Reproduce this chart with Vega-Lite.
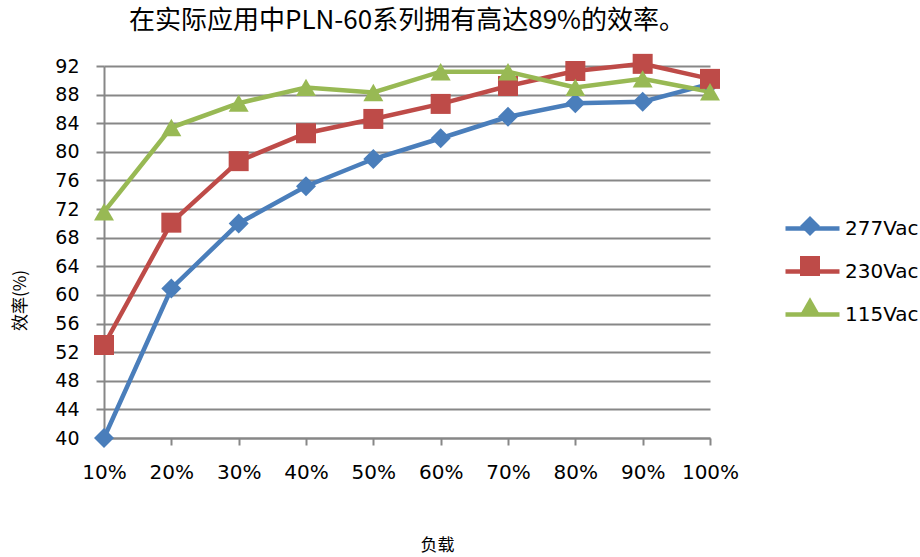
{
  "$schema": "https://vega.github.io/schema/vega-lite/v6.json",
  "width": 606,
  "height": 372,
  "autosize": {"type": "none"},
  "padding": {"left": 104, "top": 66, "right": 210, "bottom": 119},
  "background": "white",
  "title": {
    "text": "在实际应用中PLN-60系列拥有高达89%的效率。",
    "font": "Noto Sans CJK SC",
    "fontSize": 26,
    "fontWeight": "normal",
    "color": "#000000",
    "anchor": "middle",
    "offset": 20
  },
  "data": {
    "values": [
      {"load": "10%", "series": "277Vac", "eff": 40.0},
      {"load": "20%", "series": "277Vac", "eff": 60.9},
      {"load": "30%", "series": "277Vac", "eff": 70.0},
      {"load": "40%", "series": "277Vac", "eff": 75.2},
      {"load": "50%", "series": "277Vac", "eff": 79.0},
      {"load": "60%", "series": "277Vac", "eff": 81.9},
      {"load": "70%", "series": "277Vac", "eff": 84.9},
      {"load": "80%", "series": "277Vac", "eff": 86.8},
      {"load": "90%", "series": "277Vac", "eff": 87.0},
      {"load": "100%", "series": "277Vac", "eff": 89.5},
      {"load": "10%", "series": "230Vac", "eff": 53.0},
      {"load": "20%", "series": "230Vac", "eff": 70.1},
      {"load": "30%", "series": "230Vac", "eff": 78.7},
      {"load": "40%", "series": "230Vac", "eff": 82.6},
      {"load": "50%", "series": "230Vac", "eff": 84.6},
      {"load": "60%", "series": "230Vac", "eff": 86.7},
      {"load": "70%", "series": "230Vac", "eff": 89.2},
      {"load": "80%", "series": "230Vac", "eff": 91.3},
      {"load": "90%", "series": "230Vac", "eff": 92.3},
      {"load": "100%", "series": "230Vac", "eff": 90.2},
      {"load": "10%", "series": "115Vac", "eff": 71.6},
      {"load": "20%", "series": "115Vac", "eff": 83.4},
      {"load": "30%", "series": "115Vac", "eff": 86.8},
      {"load": "40%", "series": "115Vac", "eff": 89.0},
      {"load": "50%", "series": "115Vac", "eff": 88.3},
      {"load": "60%", "series": "115Vac", "eff": 91.2},
      {"load": "70%", "series": "115Vac", "eff": 91.2},
      {"load": "80%", "series": "115Vac", "eff": 89.0},
      {"load": "90%", "series": "115Vac", "eff": 90.2},
      {"load": "100%", "series": "115Vac", "eff": 88.4}
    ]
  },
  "encoding": {
    "x": {
      "field": "load",
      "type": "ordinal",
      "sort": ["10%", "20%", "30%", "40%", "50%", "60%", "70%", "80%", "90%", "100%"],
      "scale": {"type": "point", "padding": 0},
      "axis": {
        "title": "负载",
        "titleFont": "Noto Sans CJK SC",
        "titleFontSize": 17,
        "titleFontWeight": "normal",
        "titleColor": "#000000",
        "titleX": 333,
        "titleY": 107,
        "titleAlign": "center",
        "titleBaseline": "middle",
        "labelAngle": 0,
        "labelFont": "DejaVu Sans",
        "labelFontSize": 20,
        "labelColor": "#000000",
        "labelPadding": 17,
        "labelBaseline": "top",
        "tickSize": 7,
        "tickWidth": 2,
        "tickColor": "#878787",
        "domainColor": "#878787",
        "domainWidth": 2,
        "grid": false
      }
    },
    "y": {
      "field": "eff",
      "type": "quantitative",
      "scale": {"domain": [40, 92], "nice": false, "zero": false},
      "axis": {
        "title": "效率(%)",
        "titleFont": "Noto Sans CJK SC",
        "titleFontSize": 17,
        "titleFontWeight": "normal",
        "titleColor": "#000000",
        "titleAngle": -90,
        "titleX": -84,
        "titleY": 234,
        "titleAlign": "center",
        "titleBaseline": "middle",
        "values": [40, 44, 48, 52, 56, 60, 64, 68, 72, 76, 80, 84, 88, 92],
        "labelFont": "DejaVu Sans",
        "labelFontSize": 19,
        "labelColor": "#000000",
        "labelPadding": 17,
        "tickSize": 8,
        "tickWidth": 2,
        "tickColor": "#878787",
        "domainColor": "#878787",
        "domainWidth": 2,
        "grid": true,
        "gridColor": "#878787",
        "gridWidth": 2,
        "gridOpacity": 1
      }
    }
  },
  "layer": [
    {
      "mark": {"type": "line", "strokeWidth": 4.5},
      "encoding": {
        "color": {
          "field": "series",
          "type": "nominal",
          "scale": {"domain": ["277Vac", "230Vac", "115Vac"], "range": ["#4A7EBB", "#BE4B48", "#98B954"]},
          "legend": {
            "orient": "none",
            "legendX": 696,
            "legendY": 150,
            "title": null,
            "padding": 0,
            "symbolType": "M-2.7,0H2.7",
            "symbolSize": 400,
            "symbolStrokeWidth": 4.5,
            "labelFont": "DejaVu Sans",
            "labelFontSize": 20,
            "labelColor": "#000000",
            "labelOffset": 20,
            "rowPadding": 20
          }
        }
      }
    },
    {
      "mark": {"type": "point", "filled": true, "size": 400, "opacity": 1},
      "encoding": {
        "color": {
          "field": "series",
          "type": "nominal",
          "legend": null
        },
        "shape": {
          "field": "series",
          "type": "nominal",
          "sort": ["277Vac", "230Vac", "115Vac"],
          "scale": {"range": ["diamond", "square", "triangle-up"]},
          "legend": {
            "orient": "none",
            "legendX": 696,
            "legendY": 150,
            "title": null,
            "padding": 0,
            "symbolSize": 400,
            "symbolStrokeWidth": 0,
            "symbolOpacity": 1,
            "symbolFillColor": {"expr": "scale('color', datum.value)"},
            "labelExpr": "''",
            "labelFontSize": 20,
            "labelOffset": 20,
            "rowPadding": 20
          }
        }
      }
    }
  ],
  "resolve": {"legend": {"color": "independent", "shape": "independent"}},
  "config": {"view": {"stroke": null}}
}
